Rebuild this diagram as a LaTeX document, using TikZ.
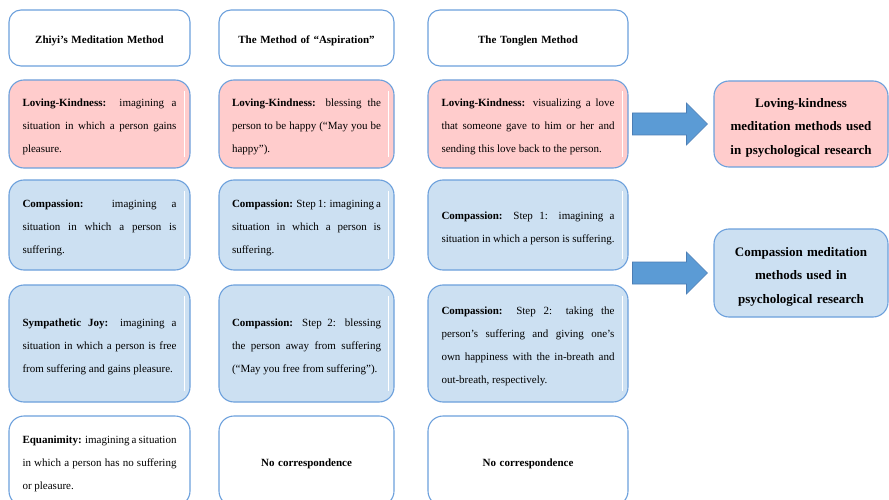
\documentclass[tikz,border=0pt]{standalone}
\usepackage{fontspec}
\setmainfont{Liberation Serif}
\usetikzlibrary{calc}
\hyphenpenalty=10000
\exhyphenpenalty=10000
\tolerance=9999

\definecolor{edgeblue}{RGB}{108,160,220}
\definecolor{lkpink}{RGB}{255,204,204}
\definecolor{cpblue}{RGB}{204,224,242}
\definecolor{arrowfill}{RGB}{91,155,213}
\definecolor{arrowedge}{RGB}{75,125,180}

\tikzset{
  cell/.style={draw=edgeblue, line width=1.1pt, rounded corners=15pt,
    inner sep=0pt, align=justify, text height=13.5pt,
    font=\fontsize{11}{23}\selectfont},
  headcell/.style={cell, rounded corners=12pt, align=center,
    font=\fontsize{11}{13}\selectfont\bfseries},
  lkcell/.style={cell, fill=lkpink},
  cpcell/.style={cell, fill=cpblue},
  zhiyicol/.style={minimum width=181pt, text width=154pt},
  aspcol/.style={minimum width=175pt, text width=149pt},
  tongcol/.style={minimum width=200pt, text width=173pt},
  research/.style={cell, minimum width=174pt, text width=150pt, align=center,
    text height=16pt, font=\fontsize{13}{23.5}\selectfont\bfseries},
  blockarrow/.style={fill=arrowfill, draw=arrowedge, line width=0.6pt},
  gloss/.style={white, line width=0.8pt},
}

\begin{document}
\begin{tikzpicture}[x=1pt, y=-1pt]
    \useasboundingbox (0,0) rectangle (889,500);
    \clip (0,0) rectangle (889,500);

    % Column headers
    \node[headcell, zhiyicol, minimum height=56pt] (zhiyiHead) at (99.5,38)
      {Zhiyi’s Meditation Method};
    \node[headcell, aspcol, minimum height=56pt] (aspHead) at (306.5,38)
      {The Method of “Aspiration”};
    \node[headcell, tongcol, minimum height=56pt] (tongHead) at (528,38)
      {The Tonglen Method};

    % Loving-kindness row
    \node[lkcell, zhiyicol, minimum height=88pt] (zhiyiLK) at (99.5,124)
      {\textbf{Loving-Kindness:} imagining a\linebreak situation in which a person gains\linebreak pleasure.};
    \node[lkcell, aspcol, minimum height=88pt] (aspLK) at (306.5,124)
      {\textbf{Loving-Kindness:} blessing the\linebreak person to be happy (“May you be\linebreak happy”).};
    \node[lkcell, tongcol, minimum height=88pt] (tongLK) at (528,124)
      {\textbf{Loving-Kindness:} visualizing a love\linebreak that someone gave to him or her and\linebreak sending this love back to the person.};

    % Compassion, first step
    \node[cpcell, zhiyicol, minimum height=90pt] (zhiyiCP) at (99.5,225)
      {\textbf{Compassion:} imagining a\linebreak situation in which a person is\linebreak suffering.};
    \node[cpcell, aspcol, minimum height=90pt] (aspCPa) at (306.5,225)
      {\textbf{Compassion:} Step 1: imagining a\linebreak situation in which a person is\linebreak suffering.};
    \node[cpcell, tongcol, minimum height=90pt] (tongCPa) at (528,225)
      {\textbf{Compassion:} Step 1: imagining a\linebreak situation in which a person is suffering.};

    % Compassion, second step
    \node[cpcell, zhiyicol, minimum height=117pt] (zhiyiSJ) at (99.5,343.5)
      {\textbf{Sympathetic Joy:} imagining a\linebreak situation in which a person is free\linebreak from suffering and gains pleasure.};
    \node[cpcell, aspcol, minimum height=117pt] (aspCPb) at (306.5,343.5)
      {\textbf{Compassion:} Step 2: blessing\linebreak the person away from suffering\linebreak (“May you free from suffering”).};
    \node[cpcell, tongcol, minimum height=117pt] (tongCPb) at (528,343.5)
      {\textbf{Compassion:} Step 2: taking the\linebreak person’s suffering and giving one’s\linebreak own happiness with the in-breath and\linebreak out-breath, respectively.};

    % Equanimity row
    \node[cell, zhiyicol, minimum height=90pt] (zhiyiEQ) at (99.5,461)
      {\textbf{Equanimity:} imagining a situation\linebreak in which a person has no suffering\linebreak or pleasure.};
    \node[cell, aspcol, minimum height=90pt, align=center] (aspNone) at (306.5,461)
      {\textbf{No correspondence}};
    \node[cell, tongcol, minimum height=90pt, align=center] (tongNone) at (528,461)
      {\textbf{No correspondence}};

    % Research methods
    \node[research, fill=lkpink, minimum height=86pt] (lkResearch) at (801,124)
      {Loving-kindness meditation methods used in psychological research};
    \node[research, fill=cpblue, minimum height=88pt] (cpResearch) at (801,273)
      {Compassion meditation methods used in psychological research};

    % Bevel highlight inside the right edge
    \foreach \n in {zhiyiLK, aspLK, tongLK, zhiyiCP, aspCPa, tongCPa,
                    zhiyiSJ, aspCPb, tongCPb} {
      \draw[gloss] ($(\n.north east)+(-6,12)$) -- ($(\n.south east)+(-6,-12)$);
    }

    % Block arrows
    \foreach \res in {lkResearch, cpResearch} {
      \path (\res.west) ++(-6,0) coordinate (tip);
      \draw[blockarrow]
        (tip) -- ++(-21,-21) -- ++(0,10) -- ++(-54,0) -- ++(0,22)
        -- ++(54,0) -- ++(0,10) -- cycle;
    }
  \end{tikzpicture}
\end{document}
